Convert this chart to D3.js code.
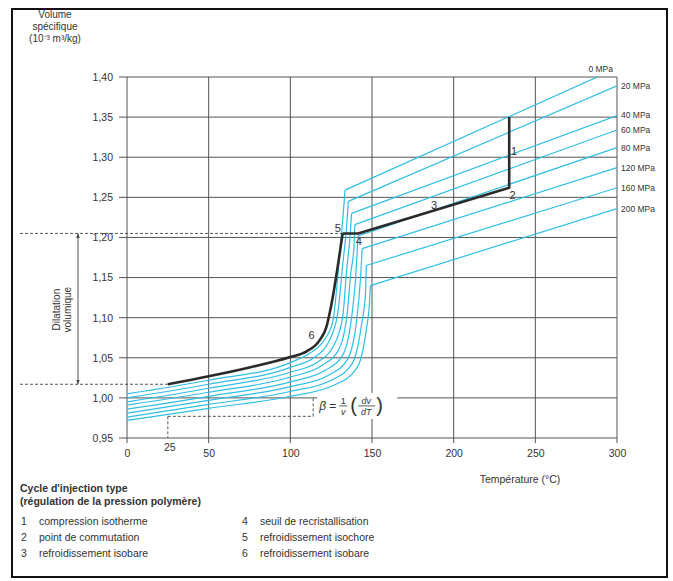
<!DOCTYPE html>
<html>
<head>
<meta charset="utf-8">
<script src="https://cdn.jsdelivr.net/npm/d3@7"></script>
<style>
  body { margin: 0; background: #fff; }
  svg text { font-family: "Liberation Sans", Arial, sans-serif; fill: #333; }
</style>
</head>
<body>
<script>
// isobar labels
const pressures = ['0 MPa', '20 MPa', '40 MPa', '60 MPa', '80 MPa', '120 MPa', '160 MPa', '200 MPa'];

// isobars: [temperature (°C), specific volume]
// last point is the end of the straight melt segment
const iso0   = [[0,1.005],[50,1.022],[100,1.044],[112,1.056],[120,1.070],[126,1.095],[129,1.150],[132,1.220],[133.5,1.259],[300,1.411]];
const iso20  = [[0,1.000],[50,1.017],[100,1.038],[115,1.051],[123,1.068],[129,1.105],[132,1.165],[134.5,1.215],[135.5,1.245],[300,1.389]];
const iso40  = [[0,0.995],[50,1.012],[100,1.032],[117,1.045],[126,1.063],[132,1.100],[134.5,1.160],[136.5,1.200],[137.5,1.230],[300,1.352]];
const iso60  = [[0,0.991],[50,1.007],[100,1.026],[119,1.040],[129,1.058],[134.5,1.100],[137,1.155],[139,1.190],[139.5,1.216],[300,1.334]];
const iso80  = [[0,0.986],[50,1.002],[100,1.020],[121,1.034],[132,1.053],[137.5,1.100],[140,1.150],[141.5,1.202],[300,1.312]];
const iso120 = [[0,0.981],[50,0.997],[100,1.014],[123,1.028],[135,1.048],[140.5,1.095],[143,1.150],[144,1.186],[300,1.287]];
const iso160 = [[0,0.976],[50,0.992],[100,1.008],[125,1.022],[138,1.043],[143.5,1.090],[146,1.130],[146.5,1.165],[300,1.262]];
const iso200 = [[0,0.972],[50,0.987],[100,1.002],[127,1.016],[141,1.038],[146.5,1.085],[148.5,1.120],[149,1.140],[300,1.236]];
const isobars = [iso0, iso20, iso40, iso60, iso80, iso120, iso160, iso200];

// injection cycle (black): curved part 6, then straight parts 5, 3, 1
const cycleCurve = [[25,1.017],[50,1.027],[75,1.038],[100,1.051],[110,1.058],[118,1.072],[122,1.088],[125,1.115],[132,1.205]];
const cycleStraight = [[132,1.205],[141.5,1.205],[234,1.262],[234,1.350]];
// step numbers and where they sit: [label, temperature, volume]
const stepLabels = [['1',237,1.307],['2',236,1.253],['3',188,1.240],['4',142,1.196],['5',129,1.212],['6',113,1.078]];

const xTicks = [0, 50, 100, 150, 200, 250, 300];
const yTicks = [0.95, 1.00, 1.05, 1.10, 1.15, 1.20, 1.25, 1.30, 1.35, 1.40];

const legendLeft = [['1','compression isotherme'],['2','point de commutation'],['3','refroidissement isobare']];
const legendRight = [['4','seuil de recristallisation'],['5','refroidissement isochore'],['6','refroidissement isobare']];

const W = 673, H = 581;
const svg = d3.select('body').append('svg').attr('width', W).attr('height', H);

// frame round the figure
svg.append('rect')
  .attr('x', 12).attr('y', 9).attr('width', 655).attr('height', 568)
  .attr('fill', 'none').attr('stroke', '#111').attr('stroke-width', 2);

const xScale = d3.scaleLinear().domain([0, 300]).range([127, 617]);
const yScale = d3.scaleLinear().domain([0.95, 1.40]).range([438, 77]);

// grid
const grid = svg.append('g').attr('stroke', '#555').attr('stroke-width', 1);
grid.selectAll('.gx').data(xTicks).join('line')
  .attr('x1', d => xScale(d)).attr('x2', d => xScale(d))
  .attr('y1', yScale(1.40)).attr('y2', yScale(0.95) + 5);
grid.selectAll('.gy').data(yTicks).join('line')
  .attr('x1', xScale(0) - 8).attr('x2', xScale(300))
  .attr('y1', d => yScale(d)).attr('y2', d => yScale(d));

// axes (labels only, grid draws the lines)
const yAxis = d3.axisLeft(yScale).tickValues(yTicks).tickSize(0).tickPadding(14)
  .tickFormat(d => d.toFixed(2).replace('.', ','));
svg.append('g').attr('transform', `translate(${xScale(0)},0)`).call(yAxis)
  .call(g => g.select('.domain').remove())
  .selectAll('text').style('font-size', '10.5px').attr('fill', '#333');

const xAxis = d3.axisBottom(xScale).tickValues(xTicks).tickSize(0).tickPadding(12);
svg.append('g').attr('transform', `translate(0,${yScale(0.95)})`).call(xAxis)
  .call(g => g.select('.domain').remove())
  .selectAll('text').style('font-size', '10.5px').attr('fill', '#333');

// axis titles
svg.append('g').selectAll('text')
  .data(['Volume', 'spécifique', '(10\u207B\u00B3 m\u00B3/kg)'])
  .join('text')
  .attr('x', 55).attr('y', (d, i) => 18 + i * 12)
  .attr('text-anchor', 'middle').style('font-size', '10px')
  .text(d => d);

svg.append('text')
  .attr('x', 520).attr('y', 483).attr('text-anchor', 'middle')
  .style('font-size', '10.5px').text('Température (°C)');

// clip to the plot area
svg.append('clipPath').attr('id', 'plot')
  .append('rect').attr('x', xScale(0)).attr('y', yScale(1.40))
  .attr('width', xScale(300) - xScale(0)).attr('height', yScale(0.95) - yScale(1.40));

const curve = d3.line().x(d => xScale(d[0])).y(d => yScale(d[1])).curve(d3.curveMonotoneX);
const straight = d3.line().x(d => xScale(d[0])).y(d => yScale(d[1]));

// isobars
const iso = svg.append('g').attr('clip-path', 'url(#plot)')
  .attr('fill', 'none').attr('stroke', '#2ebfe6').attr('stroke-width', 1.2);
iso.selectAll('.solid').data(isobars).join('path')
  .attr('d', d => curve(d.slice(0, -1)));
iso.selectAll('.melt').data(isobars).join('path')
  .attr('d', d => straight(d.slice(-2)));

// isobar labels
svg.append('g').selectAll('text').data(isobars).join('text')
  .attr('x', (d, i) => i === 0 ? xScale(300) - 4 : xScale(300) + 4)
  .attr('y', (d, i) => i === 0 ? yScale(1.40) - 8 : yScale(d[d.length - 1][1]))
  .attr('dy', '0.35em')
  .attr('text-anchor', (d, i) => i === 0 ? 'end' : 'start')
  .style('font-size', '8.5px')
  .text((d, i) => pressures[i]);

// annotation helpers
const ann = svg.append('g').attr('fill', 'none').attr('stroke', '#444').attr('stroke-width', 0.9);
const dash = '3,2';

// dilatation volumique
ann.append('line').attr('stroke-dasharray', dash)
  .attr('x1', 20).attr('x2', xScale(132)).attr('y1', yScale(1.205)).attr('y2', yScale(1.205));
ann.append('line').attr('stroke-dasharray', dash)
  .attr('x1', 20).attr('x2', xScale(25)).attr('y1', yScale(1.017)).attr('y2', yScale(1.017));

svg.append('defs').append('marker').attr('id', 'arr')
  .attr('viewBox', '0 0 10 10').attr('refX', 10).attr('refY', 5)
  .attr('markerWidth', 5).attr('markerHeight', 5).attr('orient', 'auto-start-reverse')
  .append('path').attr('d', 'M0,1 L10,5 L0,9 z').attr('fill', '#444');
ann.append('line')
  .attr('x1', 78).attr('x2', 78).attr('y1', yScale(1.205)).attr('y2', yScale(1.017))
  .attr('marker-start', 'url(#arr)').attr('marker-end', 'url(#arr)');

svg.append('g').selectAll('text').data(['Dilatation', 'volumique']).join('text')
  .attr('transform', (d, i) => `translate(${60 + i * 11},${yScale(1.11)}) rotate(-90)`)
  .attr('text-anchor', 'middle').style('font-size', '10px')
  .text(d => d);

// beta construction
ann.append('line').attr('stroke-dasharray', dash)
  .attr('x1', xScale(25)).attr('x2', xScale(114)).attr('y1', yScale(0.977)).attr('y2', yScale(0.977));
ann.append('line').attr('stroke-dasharray', dash)
  .attr('x1', xScale(114)).attr('x2', xScale(114)).attr('y1', yScale(0.977)).attr('y2', yScale(1.002));
ann.append('line').attr('stroke-dasharray', dash)
  .attr('x1', xScale(25)).attr('x2', xScale(25)).attr('y1', yScale(0.977)).attr('y2', yScale(0.95));
svg.append('text').attr('x', xScale(25) + 2).attr('y', yScale(0.95) + 13)
  .attr('text-anchor', 'middle').style('font-size', '10.5px').text('25');

const bx = xScale(114) + 6, by = yScale(0.99);
svg.append('rect').attr('x', bx - 2).attr('y', by - 13).attr('width', 80).attr('height', 26).attr('fill', '#fff');
const f = svg.append('g').attr('transform', `translate(${bx},${by})`);
f.append('text').attr('x', 0).attr('y', 4).style('font-size', '12px').style('font-style', 'italic').text('β');
f.append('text').attr('x', 10).attr('y', 4).style('font-size', '12px').text('=');
f.append('text').attr('x', 24).attr('y', -2).attr('text-anchor', 'middle').style('font-size', '9px').text('1');
f.append('line').attr('x1', 20).attr('x2', 28).attr('y1', 0).attr('y2', 0).attr('stroke', '#333').attr('stroke-width', 0.8);
f.append('text').attr('x', 24).attr('y', 9).attr('text-anchor', 'middle').style('font-size', '9px').style('font-style', 'italic').text('v');
f.append('text').attr('x', 31).attr('y', 6).style('font-size', '20px').style('font-weight', '300').text('(');
f.append('text').attr('x', 47).attr('y', -2).attr('text-anchor', 'middle').style('font-size', '9px').style('font-style', 'italic').text('dv');
f.append('line').attr('x1', 39).attr('x2', 56).attr('y1', 0).attr('y2', 0).attr('stroke', '#333').attr('stroke-width', 0.8);
f.append('text').attr('x', 47).attr('y', 9).attr('text-anchor', 'middle').style('font-size', '9px').style('font-style', 'italic').text('dT');
f.append('text').attr('x', 57).attr('y', 6).style('font-size', '20px').style('font-weight', '300').text(')');

// injection cycle
const cyc = svg.append('g').attr('fill', 'none').attr('stroke', '#2b2b2b')
  .attr('stroke-width', 2.6).attr('stroke-linejoin', 'round');
cyc.append('path').attr('d', curve(cycleCurve));
cyc.append('path').attr('d', straight(cycleStraight));

svg.append('g').selectAll('text').data(stepLabels).join('text')
  .attr('x', d => xScale(d[1])).attr('y', d => yScale(d[2]))
  .attr('dy', '0.35em').attr('text-anchor', 'middle')
  .style('font-size', '11px').attr('fill', '#333')
  .text(d => d[0]);

// legend
svg.append('g').selectAll('text')
  .data(["Cycle d'injection type", '(régulation de la pression polymère)'])
  .join('text')
  .attr('x', 20).attr('y', (d, i) => 492 + i * 13)
  .style('font-size', '10.5px').style('font-weight', 'bold')
  .text(d => d);

function legendColumn(items, x) {
  const g = svg.append('g').attr('transform', `translate(${x},0)`);
  g.selectAll('.n').data(items).join('text')
    .attr('x', 0).attr('y', (d, i) => 525 + i * 16)
    .style('font-size', '10.5px').text(d => d[0]);
  g.selectAll('.t').data(items).join('text')
    .attr('x', 18).attr('y', (d, i) => 525 + i * 16)
    .style('font-size', '10.5px').attr('fill', '#555').text(d => d[1]);
}
legendColumn(legendLeft, 21);
legendColumn(legendRight, 242);
</script>
</body>
</html>
